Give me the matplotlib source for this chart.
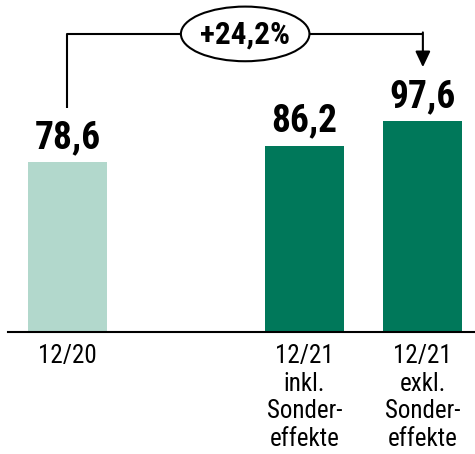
import matplotlib.pyplot as plt
from matplotlib.patches import Ellipse

# categories and values
categories = ["12/20", "12/21\ninkl.\nSonder-\neffekte", "12/21\nexkl.\nSonder-\neffekte"]
positions = [0, 2, 3]
values = [78.6, 86.2, 97.6]
value_labels = ["78,6", "86,2", "97,6"]
change_label = "+24,2%"

colors = ["#b2d8cc", "#00785a", "#00785a"]

plt.rcParams["font.family"] = ["Roboto Condensed", "DejaVu Sans"]

fig = plt.figure(figsize=(4.75, 4.54), dpi=100)
ax = fig.add_axes([8 / 475, 122 / 454, 467 / 475, 332 / 454])

ax.bar(positions, values, width=0.667, color=colors)

for x, v, lab in zip(positions, values, value_labels):
    ax.text(x, v + 6.5, lab, ha="center", va="baseline", fontsize=27, fontweight="bold")

# bracket from first to last bar
top = 138
gap = 25
x0, x1 = positions[0], positions[-1]
ax.plot([x0, x0, x1], [values[0] + gap, top, top], color="black", lw=1.5, solid_capstyle="butt")
ax.annotate("", xy=(x1, values[-1] + gap), xytext=(x1, top + 0.7),
            arrowprops=dict(arrowstyle="-|>,head_length=0.95,head_width=0.45", color="black", lw=1.5,
                            shrinkA=0, shrinkB=0))
mid = (x0 + x1) / 2
ax.add_patch(Ellipse((mid, top), 1.085, 25.3, facecolor="white", edgecolor="black", lw=1.5, zorder=3))
ax.text(mid, top - 0.5, change_label, ha="center", va="center", fontsize=22.5, fontweight="bold", zorder=4)

ax.set_xlim(-0.502, 3.44)
ax.set_ylim(0, 153.7)
ax.set_xticks(positions)
ax.set_xticklabels(categories, fontsize=18, linespacing=1.18)
ax.tick_params(axis="x", length=0, pad=9)
ax.set_yticks([])
for s in ["top", "right", "left"]:
    ax.spines[s].set_visible(False)
ax.spines["bottom"].set_linewidth(1.5)

fig.savefig("out.png", dpi=100)
